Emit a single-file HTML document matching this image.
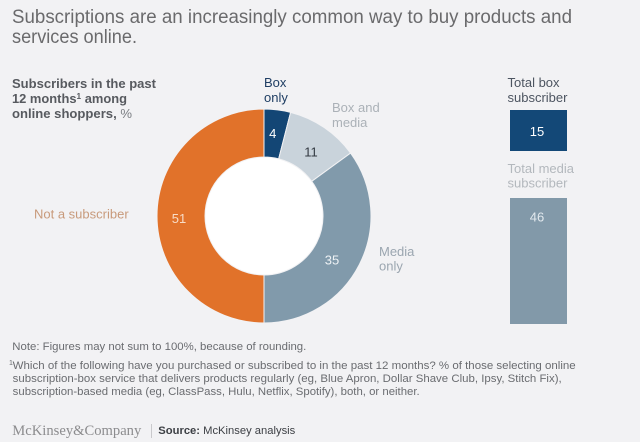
<!DOCTYPE html>
<html>
<head>
<meta charset="utf-8">
<style>
html,body{margin:0;padding:0;background:#f2f2f4;}
svg{display:block;}
text{font-family:"Liberation Sans",Arial,sans-serif;}
</style>
</head>
<body>
<svg width="640" height="442" viewBox="0 0 640 442" xmlns="http://www.w3.org/2000/svg">
<rect x="0" y="0" width="640" height="442" fill="#f2f2f4"/>

<!-- Title -->
<text x="12" y="23" font-size="19" fill="#6a6a6c" textLength="560" lengthAdjust="spacingAndGlyphs">Subscriptions are an increasingly common way to buy products and</text>
<text x="12" y="43" font-size="19" fill="#6a6a6c" textLength="125" lengthAdjust="spacingAndGlyphs">services online.</text>

<!-- Subtitle -->
<text x="12" y="88" font-size="12.5" font-weight="bold" fill="#575a5f" textLength="144" lengthAdjust="spacingAndGlyphs">Subscribers in the past</text>
<text x="12" y="103" font-size="12.5" font-weight="bold" fill="#575a5f" textLength="115" lengthAdjust="spacingAndGlyphs">12 months<tspan font-size="8" dy="-4">1</tspan><tspan dy="4"> among</tspan></text>
<text x="12" y="118" font-size="12.5" font-weight="bold" fill="#575a5f" textLength="120" lengthAdjust="spacingAndGlyphs">online shoppers, <tspan font-weight="normal" fill="#7a7d82">%</tspan></text>

<!-- Donut -->
<g stroke="#f2f2f4" stroke-width="1">
<path d="M264,109 A107,107 0 0 1 290.61,112.36 L278.67,158.85 A59,59 0 0 0 264,157 Z" fill="#134675"/>
<path d="M290.61,112.36 A107,107 0 0 1 350.56,153.11 L311.73,181.32 A59,59 0 0 0 278.67,158.85 Z" fill="#c9d3db"/>
<path d="M350.56,153.11 A107,107 0 0 1 264,323 L264,275 A59,59 0 0 0 311.73,181.32 Z" fill="#819aab"/>
<path d="M264,323 A107,107 0 0 1 264,109 L264,157 A59,59 0 0 0 264,275 Z" fill="#e1722a"/>
</g>
<circle cx="264" cy="216" r="58.5" fill="#ffffff"/>

<!-- Donut values -->
<text x="272.7" y="138" font-size="13" fill="#ffffff" text-anchor="middle">4</text>
<text x="311" y="156.5" font-size="13" fill="#333a42" text-anchor="middle">11</text>
<text x="332" y="264.5" font-size="13" fill="#eef2f5" text-anchor="middle">35</text>
<text x="179" y="223" font-size="13" fill="#f8dcc6" text-anchor="middle">51</text>

<!-- Donut labels -->
<text x="264" y="87" font-size="13" fill="#1f3e63">Box</text>
<text x="264" y="102" font-size="13" fill="#1f3e63">only</text>
<text x="332" y="112" font-size="13" fill="#abb1b7">Box and</text>
<text x="332" y="127" font-size="13" fill="#abb1b7">media</text>
<text x="379" y="256" font-size="13" fill="#9ba6b0">Media</text>
<text x="379" y="270.5" font-size="13" fill="#9ba6b0">only</text>
<text x="34" y="218.5" font-size="13" fill="#c89a7b">Not a subscriber</text>

<!-- Bars -->
<text x="507.5" y="87" font-size="13" fill="#4d5561">Total box</text>
<text x="507.5" y="102" font-size="13" fill="#4d5561">subscriber</text>
<rect x="510" y="110" width="57" height="41" fill="#134877"/>
<text x="537" y="136" font-size="13" fill="#ffffff" text-anchor="middle">15</text>

<text x="507.5" y="173" font-size="13" fill="#b3b8bd">Total media</text>
<text x="507.5" y="187.5" font-size="13" fill="#b3b8bd">subscriber</text>
<rect x="510" y="198" width="57" height="126" fill="#8299a9"/>
<text x="537" y="221.5" font-size="13" fill="#e2e9ee" text-anchor="middle">46</text>

<!-- Notes -->
<text x="12.3" y="350" font-size="11" fill="#6a6c70" textLength="294" lengthAdjust="spacingAndGlyphs">Note: Figures may not sum to 100%, because of rounding.</text>
<text x="9" y="365" font-size="7" fill="#6a6c70">1</text>
<text x="12.7" y="369" font-size="11" fill="#6a6c70" textLength="563" lengthAdjust="spacingAndGlyphs">Which of the following have you purchased or subscribed to in the past 12 months? % of those selecting online</text>
<text x="12.7" y="382" font-size="11" fill="#6a6c70" textLength="549" lengthAdjust="spacingAndGlyphs">subscription-box service that delivers products regularly (eg, Blue Apron, Dollar Shave Club, Ipsy, Stitch Fix),</text>
<text x="12.7" y="395" font-size="11" fill="#6a6c70" textLength="407" lengthAdjust="spacingAndGlyphs">subscription-based media (eg, ClassPass, Hulu, Netflix, Spotify), both, or neither.</text>

<!-- Footer -->
<text x="12.3" y="435" font-size="15" fill="#8c8c8e" style="font-family:'Liberation Serif',serif" textLength="129" lengthAdjust="spacingAndGlyphs">McKinsey&amp;Company</text>
<line x1="151.5" y1="424" x2="151.5" y2="438" stroke="#c9c9cc" stroke-width="1"/>
<text x="158.3" y="434" font-size="11" fill="#3c3f44" textLength="137" lengthAdjust="spacingAndGlyphs"><tspan font-weight="bold">Source:</tspan> McKinsey analysis</text>
</svg>
</body>
</html>
